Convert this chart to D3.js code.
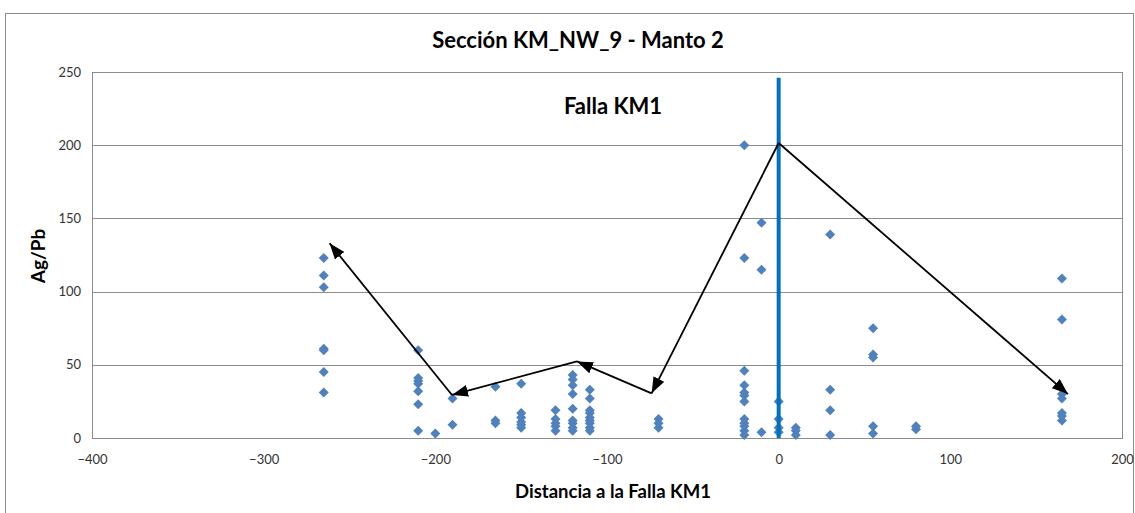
<!DOCTYPE html>
<html>
<head>
<meta charset="utf-8">
<script src="https://cdn.jsdelivr.net/npm/d3@7"></script>
<style>
  html, body { margin: 0; padding: 0; background: #fff; }
  svg { display: block; }
  text { font-family: Lato, "Open Sans", sans-serif; }
</style>
</head>
<body>
<svg id="chart" width="1135" height="513"></svg>
<script>
// Distance to the KM1 fault (m) for each sampled drill-hole column
const distances = [-265, -210, -200, -190, -165, -150, -130, -120, -110, -70, -20, -10, 0, 10, 30, 55, 80, 165];

// Ag/Pb ratios measured at each distance
const ratios = [
  [123, 111, 103, 61, 60, 45, 31],
  [60, 41, 39, 37, 32, 23, 5],
  [3],
  [27, 9],
  [35, 12, 10],
  [37, 17, 14, 11, 9, 7],
  [19, 13, 10, 8, 5],
  [43, 40, 36, 30, 20, 12, 10, 7, 5],
  [33, 27, 19, 17, 14, 12, 10, 7, 5],
  [13, 10, 7],
  [200, 123, 46, 36, 31, 29, 25, 13, 10, 8, 5, 2],
  [147, 115, 4],
  [25, 13, 7, 4],
  [7, 5, 2],
  [139, 33, 19, 2],
  [75, 57, 55, 8, 3],
  [8, 6],
  [109, 81, 30, 27, 17, 15, 12]
];

// Axis ticks
const xTicks = [-400, -300, -200, -100, 0, 100, 200];
const yTicks = [0, 50, 100, 150, 200, 250];

// Fault trace position and height
const faultX = 0;
const faultTop = 246;

// Trend arrows (distance, Ag/Pb): start and end points
const arrowFrom = [[0, 201.5], [-74, 30.5], [-117.5, 52.3], [-190.3, 29.4], [0, 201.5]];
const arrowTo   = [[-74, 30.5], [-117.5, 52.3], [-190.3, 29.4], [-261.6, 133], [168.5, 30]];

const titleText = "Sección KM_NW_9 - Manto 2";
const xTitle = "Distancia a la Falla KM1";
const yTitle = "Ag/Pb";
const faultLabel = "Falla KM1";

const svg = d3.select("#chart");

const x = d3.scaleLinear().domain([-400, 200]).range([92, 1122]);
const y = d3.scaleLinear().domain([0, 250]).range([438, 72]);

// Outer chart frame
svg.append("rect")
  .attr("x", 5.5).attr("y", 13.5)
  .attr("width", 1128).attr("height", 520)
  .attr("fill", "none").attr("stroke", "#8c8c8c").attr("stroke-width", 1);

// Title
svg.append("text")
  .attr("x", 578).attr("y", 48)
  .attr("text-anchor", "middle")
  .attr("font-size", 22).attr("font-weight", "bold")
  .attr("fill", "#000")
  .text(titleText);

// Horizontal gridlines
svg.append("g")
  .selectAll("line")
  .data(yTicks)
  .join("line")
  .attr("x1", x(-400)).attr("x2", x(200))
  .attr("y1", d => Math.round(y(d)) + 0.5).attr("y2", d => Math.round(y(d)) + 0.5)
  .attr("stroke", "#8c8c8c").attr("stroke-width", 1);

// Plot area border
svg.append("rect")
  .attr("x", x(-400) + 0.5).attr("y", Math.round(y(250)) + 0.5)
  .attr("width", x(200) - x(-400)).attr("height", Math.round(y(0)) - Math.round(y(250)))
  .attr("fill", "none").attr("stroke", "#8c8c8c").attr("stroke-width", 1);

// Axes (labels only)
const xAxis = d3.axisBottom(x).tickValues(xTicks).tickSize(0).tickPadding(17);
const gx = svg.append("g").attr("transform", `translate(0,${y(0)})`).call(xAxis);
gx.select(".domain").remove();
gx.selectAll("text").attr("font-size", 13).attr("fill", "#333")
  .attr("font-family", "Lato, 'Open Sans', sans-serif");

const yAxis = d3.axisLeft(y).tickValues(yTicks).tickSize(0).tickPadding(11);
const gy = svg.append("g").attr("transform", `translate(${x(-400)},0)`).call(yAxis);
gy.select(".domain").remove();
gy.selectAll("text").attr("font-size", 13).attr("fill", "#333")
  .attr("font-family", "Lato, 'Open Sans', sans-serif");

// Axis titles
svg.append("text")
  .attr("x", 613).attr("y", 498)
  .attr("text-anchor", "middle")
  .attr("font-size", 18.5).attr("font-weight", "bold")
  .text(xTitle);

svg.append("text")
  .attr("transform", "translate(45,256) rotate(-90)")
  .attr("text-anchor", "middle")
  .attr("font-size", 19).attr("font-weight", "bold")
  .text(yTitle);

// Sample points
const points = distances.flatMap((d, i) => ratios[i].map(v => ({ d, v })));
svg.append("g")
  .selectAll("path")
  .data(points)
  .join("path")
  .attr("d", d3.symbol().type(d3.symbolSquare).size(50))
  .attr("transform", p => `translate(${x(p.d)},${y(p.v)}) rotate(45)`)
  .attr("fill", "#4f81bd");

// Fault trace
svg.append("line")
  .attr("x1", x(faultX)).attr("x2", x(faultX))
  .attr("y1", y(0)).attr("y2", y(faultTop))
  .attr("stroke", "#0070c0").attr("stroke-width", 4);

// Fault label
svg.append("text")
  .attr("x", 613).attr("y", 114)
  .attr("text-anchor", "middle")
  .attr("font-size", 22).attr("font-weight", "bold")
  .text(faultLabel);

// Trend arrows
svg.append("defs").append("marker")
  .attr("id", "head")
  .attr("viewBox", "0 0 16 12")
  .attr("refX", 16).attr("refY", 6)
  .attr("markerWidth", 16).attr("markerHeight", 12)
  .attr("markerUnits", "userSpaceOnUse")
  .attr("orient", "auto")
  .append("path")
  .attr("d", "M0,0 L16,6 L0,12 Z")
  .attr("fill", "#000");

svg.append("g")
  .selectAll("line")
  .data(arrowFrom.map((f, i) => [f, arrowTo[i]]))
  .join("line")
  .attr("x1", a => x(a[0][0])).attr("y1", a => y(a[0][1]))
  .attr("x2", a => x(a[1][0])).attr("y2", a => y(a[1][1]))
  .attr("stroke", "#000").attr("stroke-width", 1.8)
  .attr("marker-end", "url(#head)");
</script>
</body>
</html>
